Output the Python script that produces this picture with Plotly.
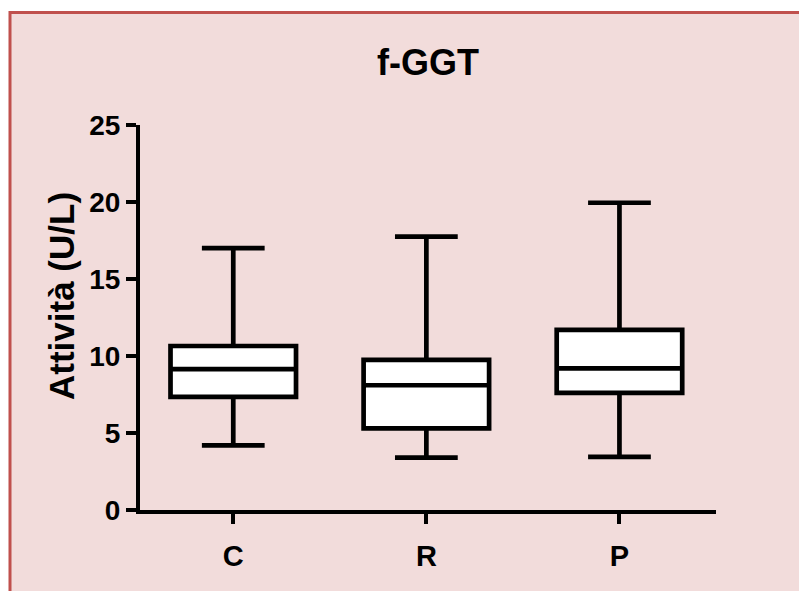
import plotly.graph_objects as go

categories = ["C", "R", "P"]
lower_whisker = [4.2, 3.4, 3.45]
q1_values = [7.35, 5.3, 7.6]
median_values = [9.15, 8.1, 9.2]
q3_values = [10.65, 9.75, 11.7]
upper_whisker = [17.0, 17.75, 19.95]
y_ticks = [0, 5, 10, 15, 20, 25]

W, H = 799, 591
ML, MR, MT, MB = 140, 83, 125, 81
PW, PH = W - ML - MR, H - MT - MB

PINK = "#F2DCDB"
RED = "#C0504D"
FONT = "Liberation Sans, Arial, sans-serif"

fig = go.Figure()
fig.add_trace(go.Box(
    x=categories,
    q1=q1_values,
    median=median_values,
    q3=q3_values,
    lowerfence=lower_whisker,
    upperfence=upper_whisker,
    fillcolor="white",
    line=dict(color="black", width=4.7),
    width=0.65,
    whiskerwidth=0.5,
    boxpoints=False,
    hoverinfo="skip",
    showlegend=False,
))

def px2x(px):
    return (px - ML) / PW

def px2y(py):
    return (H - MB - py) / PH

fig.add_shape(
    type="rect", xref="paper", yref="paper",
    x0=px2x(10), x1=px2x(W + 20), y0=px2y(H + 20), y1=px2y(12.5),
    fillcolor=PINK, line=dict(color=RED, width=3), layer="below",
)

fig.add_annotation(
    text="<b>Attività (U/L)</b>", textangle=-90,
    xref="paper", yref="paper", x=px2x(61), y=px2y(296),
    xanchor="center", yanchor="middle", showarrow=False,
    font=dict(size=35, family=FONT, color="black"),
)

fig.update_layout(
    width=W, height=H,
    margin=dict(l=ML, r=MR, t=MT, b=MB, pad=0),
    paper_bgcolor="white",
    plot_bgcolor="rgba(0,0,0,0)",
    font=dict(family=FONT, color="black"),
    title=dict(
        text="<b>f-GGT</b>", x=0.5, xref="paper", xanchor="center",
        y=1 - 62 / H, yref="container", yanchor="middle",
        font=dict(size=36, family=FONT, color="black"),
    ),
    xaxis=dict(
        type="category", range=[-0.483, 2.5],
        showline=True, linecolor="black", linewidth=4,
        ticks="outside", ticklen=10, tickwidth=4, tickcolor="black",
        tickfont=dict(size=29, family=FONT, color="black"),
        tickprefix="<b>", ticksuffix="</b>",
        showgrid=False, zeroline=False, ticklabelstandoff=7,
    ),
    yaxis=dict(
        range=[0, 25], tickvals=y_ticks,
        ticktext=[f"<b>{v}</b>" for v in y_ticks],
        showline=True, linecolor="black", linewidth=4,
        ticks="outside", ticklen=10, tickwidth=4, tickcolor="black",
        tickfont=dict(size=28, family=FONT, color="black"),
        showgrid=False, zeroline=False,
    ),
)

fig.write_html(
    "out.html",
    config={"displayModeBar": False, "staticPlot": True},
    post_script="document.body.style.margin='0';document.body.style.overflow='hidden';",
)
